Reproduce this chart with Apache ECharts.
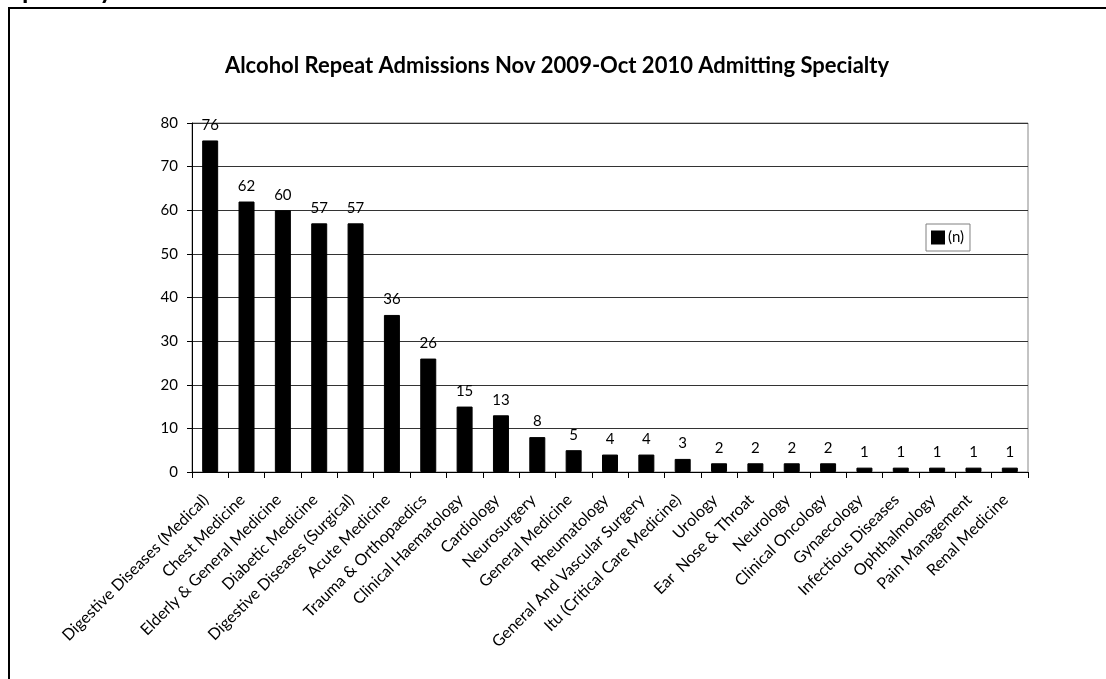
<!DOCTYPE html>
<html>
<head>
<meta charset="utf-8">
<script src="https://cdn.jsdelivr.net/npm/echarts@6/dist/echarts.min.js"></script>
<style>html,body{margin:0;padding:0;background:#fff}#c{width:1106px;height:679px}</style>
</head>
<body>
<div id="c"></div>
<script>
const categories = ["Digestive Diseases (Medical)","Chest Medicine","Elderly & General Medicine","Diabetic Medicine","Digestive Diseases (Surgical)","Acute Medicine","Trauma & Orthopaedics","Clinical Haematology","Cardiology","Neurosurgery","General Medicine","Rheumatology","General And Vascular Surgery","Itu (Critical Care Medicine)","Urology","Ear  Nose & Throat","Neurology","Clinical Oncology","Gynaecology","Infectious Diseases","Ophthalmology","Pain Management","Renal Medicine"];
const values = [76,62,60,57,57,36,26,15,13,8,5,4,4,3,2,2,2,2,1,1,1,1,1];
const yTicks = [0,10,20,30,40,50,60,70,80];
const seriesName = "(n)";
const titleText = "Alcohol Repeat Admissions Nov 2009-Oct 2010 Admitting Specialty";
const headerText = "Specialty";

const chart = echarts.init(document.getElementById('c'), null, {renderer:'canvas'});
const F = 'Lato, "Open Sans", sans-serif';
chart.setOption({
  animation:false,
  backgroundColor:'#fff',
  title:{text:titleText,left:552,textAlign:'center',top:50,textStyle:{fontFamily:F,fontSize:22,fontWeight:'bold',color:'#000'}},
  legend:{data:[seriesName],left:926,top:224,orient:'vertical',itemWidth:12,itemHeight:12,itemGap:4,padding:[6,6,6,5],
    borderColor:'#808080',borderWidth:1,textStyle:{fontFamily:F,fontSize:15,color:'#000',padding:[0,0,0,-1]},icon:'rect'},
  grid:{left:192,right:78,top:123,bottom:207,show:true,borderColor:'#888',borderWidth:1},
  xAxis:{type:'category',data:categories,
    axisLine:{lineStyle:{color:'#000',width:1}},
    axisTick:{show:true,length:6,alignWithLabel:false,lineStyle:{color:'#000'}},
    axisLabel:{rotate:45,interval:0,fontFamily:F,fontSize:16,color:'#000',margin:21,padding:[0,6,0,0]}},
  yAxis:{type:'value',min:0,max:80,interval:10,
    axisLine:{show:true,lineStyle:{color:'#000'}},
    axisTick:{show:true,length:5,inside:false,lineStyle:{color:'#000'}},
    axisLabel:{fontFamily:F,fontSize:15,color:'#000',margin:14,formatter:v=>yTicks.includes(v)?String(v):''},
    splitLine:{show:true,lineStyle:{color:'#333',width:1}}},
  series:[{type:'bar',name:seriesName,data:values,barWidth:'44%',
    itemStyle:{color:'#000',borderColor:'#000',borderWidth:1},
    label:{show:true,position:'top',distance:8,fontFamily:F,fontSize:15,color:'#000'}}],
  graphic:[
    {type:'rect',shape:{x:9,y:8,width:1120,height:700},style:{fill:'none',stroke:'#000',lineWidth:2},silent:true},
    {type:'text',left:8,top:-22,style:{text:headerText,fontFamily:F,fontSize:26,fontWeight:'bold',fill:'#000'}}
  ]
});
</script>
</body>
</html>
